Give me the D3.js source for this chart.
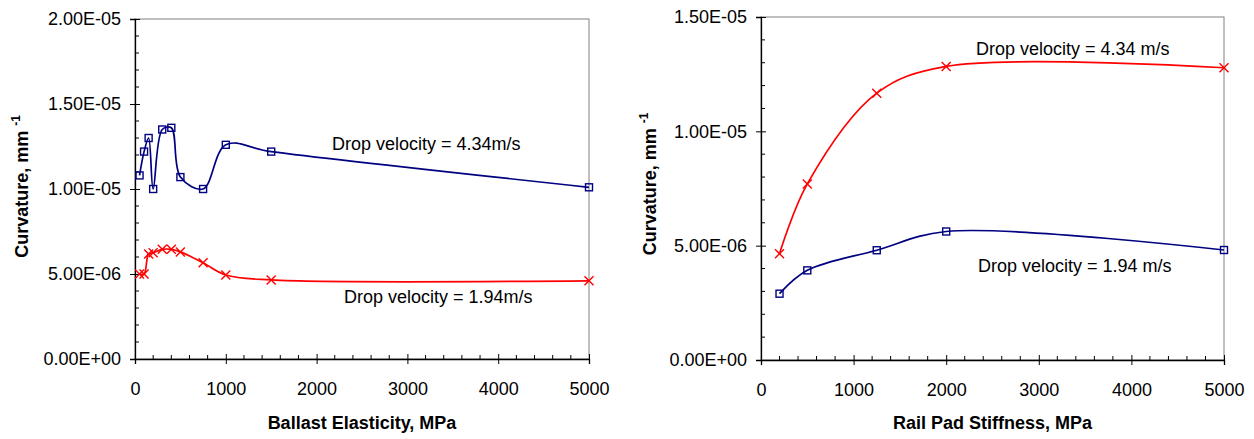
<!DOCTYPE html>
<html>
<head>
<meta charset="utf-8">
<script src="https://cdn.jsdelivr.net/npm/d3@7"></script>
<style>
  html, body { margin: 0; padding: 0; background: #fff; }
  svg { display: block; font-family: "Liberation Sans", Arial, Helvetica, sans-serif; }
</style>
</head>
<body>
<svg id="chart" width="1254" height="439"></svg>
<script>
// Ballast elasticity study (MPa) and curvature for two drop velocities
const ballastE = [50, 100, 150, 200, 300, 400, 500, 750, 1000, 1500, 5000];
const ballastFast = [1.08e-5, 1.22e-5, 1.30e-5, 1.00e-5, 1.35e-5, 1.36e-5, 1.07e-5, 1.00e-5, 1.26e-5, 1.22e-5, 1.01e-5];
const ballastSlow = [5.0e-6, 5.0e-6, 6.18e-6, 6.25e-6, 6.45e-6, 6.45e-6, 6.3e-6, 5.66e-6, 4.94e-6, 4.65e-6, 4.6e-6];

// Rail pad stiffness study (MPa)
const padK = [200, 500, 1250, 2000, 5000];
const padFast = [4.65e-6, 7.7e-6, 1.167e-5, 1.284e-5, 1.278e-5];
const padSlow = [2.9e-6, 3.92e-6, 4.8e-6, 5.62e-6, 4.81e-6];

// Axis ticks
const xTicks = [0, 1000, 2000, 3000, 4000, 5000];
const leftYTicks = [0, 5e-6, 1e-5, 1.5e-5, 2e-5];
const rightYTicks = [0, 5e-6, 1e-5, 1.5e-5];

const BLUE = "#000080", RED = "#ff0000";

// Excel-style scientific notation: 1.50E-05
function fmtE(v) {
  const [m, e] = v.toExponential(2).split("e");
  const n = Math.abs(+e);
  return m + "E" + (+e < 0 ? "-" : "+") + String(n).padStart(2, "0");
}

const svg = d3.select("#chart");

function panel(cfg) {
  const x = d3.scaleLinear().domain([0, 5000]).range([cfg.x0, cfg.x1]);
  const y = d3.scaleLinear().domain([0, cfg.yMax]).range([cfg.y1, cfg.y0]);
  const g = svg.append("g");

  // plot area frame
  g.append("rect")
    .attr("x", cfg.x0).attr("y", cfg.y0)
    .attr("width", cfg.x1 - cfg.x0).attr("height", cfg.y1 - cfg.y0)
    .attr("fill", "none").attr("stroke", "#808080").attr("stroke-width", 1);

  // minor ticks (inside)
  const xMinor = d3.range(0, 5001, 200).filter(v => v % 1000 !== 0);
  g.selectAll(".xmin").data(xMinor).join("line")
    .attr("x1", d => x(d)).attr("x2", d => x(d))
    .attr("y1", cfg.y1).attr("y2", cfg.y1 - 4)
    .attr("stroke", "#000").attr("stroke-width", 1);
  const yMinor = d3.range(0, cfg.yMax + 1e-12, 1e-6).filter(v => Math.abs(v / 5e-6 - Math.round(v / 5e-6)) > 1e-6);
  g.selectAll(".ymin").data(yMinor).join("line")
    .attr("x1", cfg.x0).attr("x2", cfg.x0 + 4)
    .attr("y1", d => y(d)).attr("y2", d => y(d))
    .attr("stroke", "#000").attr("stroke-width", 1);

  // bottom axis
  const xAxis = d3.axisBottom(x).tickValues(xTicks).tickFormat(d3.format("d")).tickSize(5).tickPadding(18);
  const gx = g.append("g").attr("transform", `translate(0,${cfg.y1})`).call(xAxis);
  gx.select(".domain").attr("stroke", "#000").attr("stroke-width", 1.3);
  gx.selectAll(".tick line").attr("y1", -5).attr("stroke", "#000");
  gx.selectAll(".tick text").attr("font-size", 18).attr("fill", "#000")
    .attr("font-family", "'Liberation Sans', Arial, sans-serif");

  // left axis
  const yAxis = d3.axisLeft(y).tickValues(cfg.yTicks).tickFormat(fmtE).tickSize(5).tickPadding(9);
  const gy = g.append("g").attr("transform", `translate(${cfg.x0},0)`).call(yAxis);
  gy.select(".domain").attr("stroke", "#000").attr("stroke-width", 1.3);
  gy.selectAll(".tick line").attr("x1", 5).attr("stroke", "#000");
  gy.selectAll(".tick text").attr("font-size", 18).attr("fill", "#000")
    .attr("font-family", "'Liberation Sans', Arial, sans-serif");

  // axis titles
  g.append("text")
    .attr("x", (cfg.x0 + cfg.x1) / 2).attr("y", 429)
    .attr("text-anchor", "middle").attr("font-size", 18).attr("font-weight", "bold")
    .text(cfg.xTitle);
  const yt = g.append("text")
    .attr("transform", `translate(${cfg.yTitleX},${cfg.yTitleY}) rotate(-90)`)
    .attr("text-anchor", "middle").attr("font-size", 18).attr("font-weight", "bold");
  yt.append("tspan").text("Curvature, mm ");
  yt.append("tspan").attr("font-size", 12).attr("dy", -8).text("-1");

  // series, smoothed
  const line = d3.line()
    .x(d => x(d[0])).y(d => y(d[1]))
    .curve(d3.curveCatmullRom.alpha(0.5));

  cfg.series.forEach(s => {
    const pts = cfg.xs.map((v, i) => [v, s.values[i]]);
    g.append("path").datum(pts)
      .attr("d", line).attr("fill", "none")
      .attr("stroke", s.color).attr("stroke-width", 1.7);
    if (s.marker === "square") {
      g.selectAll(null).data(pts).join("rect")
        .attr("x", d => x(d[0]) - 3.5).attr("y", d => y(d[1]) - 3.5)
        .attr("width", 7).attr("height", 7)
        .attr("fill", "none").attr("stroke", s.color).attr("stroke-width", 1.4);
    } else {
      const m = g.selectAll(null).data(pts).join("g")
        .attr("transform", d => `translate(${x(d[0])},${y(d[1])})`);
      m.append("line").attr("x1", -4.5).attr("y1", -4.5).attr("x2", 4.5).attr("y2", 4.5)
        .attr("stroke", s.color).attr("stroke-width", 1.4);
      m.append("line").attr("x1", -4.5).attr("y1", 4.5).attr("x2", 4.5).attr("y2", -4.5)
        .attr("stroke", s.color).attr("stroke-width", 1.4);
    }
  });

  // series labels
  cfg.labels.forEach(l => {
    g.append("text").attr("x", l.x).attr("y", l.y)
      .attr("font-size", 18).attr("fill", "#000").text(l.text);
  });
}

panel({
  x0: 135, x1: 589, y0: 19, y1: 359, yMax: 2e-5, yTicks: leftYTicks,
  xTitle: "Ballast Elasticity, MPa", yTitleX: 27.5, yTitleY: 186.5,
  xs: ballastE,
  series: [
    { values: ballastFast, color: BLUE, marker: "square" },
    { values: ballastSlow, color: RED, marker: "cross" }
  ],
  labels: [
    { x: 332, y: 150, text: "Drop velocity = 4.34m/s" },
    { x: 344, y: 303, text: "Drop velocity = 1.94m/s" }
  ]
});

panel({
  x0: 761, x1: 1224, y0: 17, y1: 360, yMax: 1.5e-5, yTicks: rightYTicks,
  xTitle: "Rail Pad Stiffness, MPa", yTitleX: 655.5, yTitleY: 184,
  xs: padK,
  series: [
    { values: padFast, color: RED, marker: "cross" },
    { values: padSlow, color: BLUE, marker: "square" }
  ],
  labels: [
    { x: 976, y: 55, text: "Drop velocity = 4.34 m/s" },
    { x: 978, y: 272, text: "Drop velocity = 1.94 m/s" }
  ]
});
</script>
</body>
</html>
